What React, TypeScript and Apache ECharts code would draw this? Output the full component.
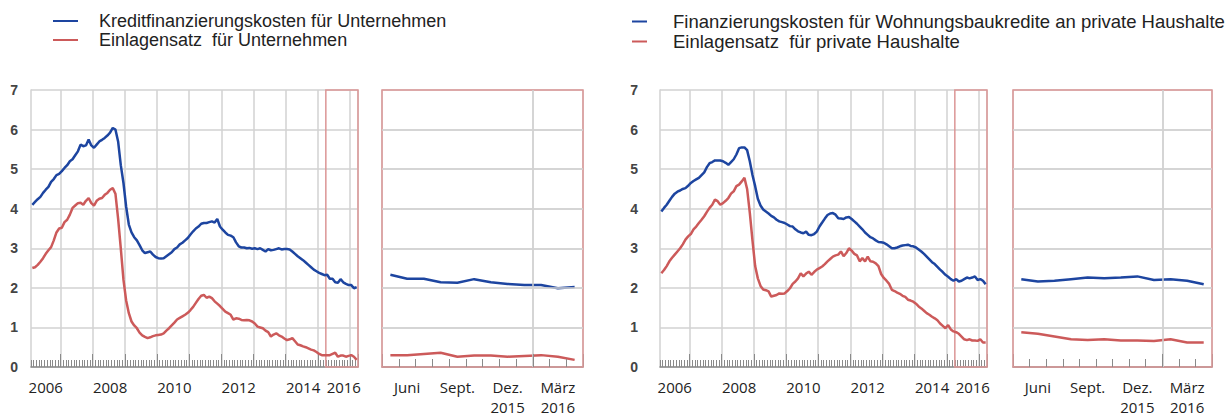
import { useEffect, useRef } from 'react';
import * as echarts from 'echarts';

// ---------- data ----------
const firstMonth = '2006-02';
const lastMonth = '2016-03';
const zoomFirstMonth = '2015-04';

const nameKreditU = 'Kreditfinanzierungskosten für Unternehmen';
const nameEinlageU = 'Einlagensatz  für Unternehmen';
const nameKreditH = 'Finanzierungskosten für Wohnungsbaukredite an private Haushalte';
const nameEinlageH = 'Einlagensatz  für private Haushalte';

// monthly values Feb 2006 – Mar 2016 (%)
const kreditUnternehmen = [
  4.10, 4.17, 4.24, 4.30, 4.40, 4.48, 4.55, 4.68, 4.75, 4.85,
  4.88, 4.95, 5.03, 5.10, 5.20, 5.25, 5.35, 5.45, 5.62, 5.58,
  5.60, 5.75, 5.60, 5.54, 5.62, 5.70, 5.74, 5.79, 5.85, 5.92,
  6.04, 6.00, 5.70, 5.10, 4.65, 4.05, 3.60, 3.40, 3.28, 3.20,
  3.08, 2.95, 2.88, 2.90, 2.92, 2.84, 2.78, 2.75, 2.74, 2.75,
  2.80, 2.85, 2.90, 2.98, 3.02, 3.10, 3.14, 3.20, 3.26, 3.35,
  3.43, 3.50, 3.55, 3.62, 3.64, 3.64, 3.66, 3.68, 3.65, 3.74,
  3.55, 3.47, 3.40, 3.34, 3.32, 3.28, 3.15, 3.05, 3.02, 3.02,
  3.00, 3.01, 2.99, 3.00, 2.98, 3.00, 2.96, 2.92, 2.98, 2.95,
  2.96, 2.98, 3.00, 2.97, 2.98, 2.98, 2.97, 2.92, 2.86, 2.80,
  2.75, 2.70, 2.64, 2.58, 2.52, 2.46, 2.42, 2.38, 2.35, 2.32,
  2.33, 2.23, 2.23, 2.14, 2.13, 2.22, 2.14, 2.10, 2.07, 2.07, 1.99, 2.02,
];
const einlageUnternehmen = [
  2.50, 2.52, 2.58, 2.66, 2.75, 2.86, 2.95, 3.03, 3.20, 3.40,
  3.50, 3.52, 3.66, 3.72, 3.85, 4.02, 4.08, 4.14, 4.15, 4.10,
  4.20, 4.27, 4.14, 4.08, 4.20, 4.25, 4.27, 4.35, 4.40, 4.48,
  4.52, 4.38, 3.75, 3.00, 2.20, 1.68, 1.36, 1.15, 1.05, 0.98,
  0.87, 0.80, 0.76, 0.73, 0.75, 0.78, 0.80, 0.81, 0.82, 0.85,
  0.92, 0.98, 1.05, 1.12, 1.20, 1.24, 1.28, 1.32, 1.37, 1.44,
  1.52, 1.62, 1.72, 1.80, 1.82, 1.75, 1.78, 1.74, 1.66, 1.60,
  1.54, 1.47, 1.40, 1.36, 1.32, 1.20, 1.23, 1.22, 1.19, 1.18,
  1.19, 1.18, 1.15, 1.10, 1.02, 1.00, 0.98, 0.92, 0.88, 0.77,
  0.82, 0.85, 0.80, 0.77, 0.72, 0.68, 0.70, 0.73, 0.65, 0.57,
  0.55, 0.52, 0.50, 0.47, 0.44, 0.42, 0.38, 0.33, 0.30, 0.30,
  0.30, 0.30, 0.33, 0.36, 0.26, 0.29, 0.29, 0.26, 0.28, 0.30, 0.26, 0.18,
];
const kreditHaushalte = [
  3.93, 4.02, 4.10, 4.20, 4.30, 4.38, 4.43, 4.46, 4.50, 4.52,
  4.58, 4.65, 4.70, 4.74, 4.78, 4.85, 4.92, 5.05, 5.15, 5.18,
  5.22, 5.22, 5.22, 5.20, 5.16, 5.11, 5.18, 5.25, 5.37, 5.53,
  5.55, 5.55, 5.48, 5.20, 4.85, 4.57, 4.25, 4.08, 3.98, 3.93,
  3.88, 3.82, 3.78, 3.72, 3.68, 3.66, 3.64, 3.60, 3.56, 3.55,
  3.48, 3.43, 3.40, 3.38, 3.42, 3.34, 3.33, 3.36, 3.42, 3.55,
  3.65, 3.75, 3.84, 3.88, 3.89, 3.85, 3.76, 3.75, 3.74, 3.78,
  3.79, 3.74, 3.68, 3.62, 3.55, 3.48, 3.40, 3.34, 3.28, 3.25,
  3.20, 3.16, 3.15, 3.14, 3.10, 3.05, 3.00, 3.00, 3.02, 3.05,
  3.07, 3.08, 3.09, 3.06, 3.05, 3.02, 2.97, 2.92, 2.86, 2.79,
  2.72, 2.65, 2.60, 2.53, 2.46, 2.40, 2.33, 2.28, 2.22, 2.18,
  2.22, 2.16, 2.18, 2.22, 2.26, 2.24, 2.26, 2.29, 2.20, 2.22, 2.18, 2.09,
];
const einlageHaushalte = [
  2.37, 2.45, 2.55, 2.67, 2.76, 2.84, 2.92, 3.00, 3.10, 3.22,
  3.30, 3.36, 3.48, 3.55, 3.64, 3.72, 3.81, 3.92, 4.02, 4.10,
  4.23, 4.19, 4.10, 4.14, 4.20, 4.27, 4.38, 4.44, 4.57, 4.61,
  4.69, 4.78, 4.50, 3.90, 3.20, 2.55, 2.24, 2.05, 1.96, 1.94,
  1.91, 1.78, 1.80, 1.82, 1.86, 1.85, 1.86, 1.92, 1.99, 2.10,
  2.16, 2.24, 2.37, 2.29, 2.36, 2.41, 2.33, 2.40, 2.46, 2.50,
  2.54, 2.60, 2.67, 2.73, 2.79, 2.82, 2.84, 2.92, 2.80, 2.88,
  3.00, 2.94, 2.86, 2.82, 2.67, 2.75, 2.67, 2.79, 2.67, 2.66,
  2.62, 2.55, 2.35, 2.25, 2.18, 2.10, 1.95, 1.92, 1.88, 1.85,
  1.80, 1.77, 1.70, 1.68, 1.65, 1.60, 1.53, 1.48, 1.42, 1.36,
  1.32, 1.27, 1.23, 1.18, 1.10, 1.04, 0.98, 1.06, 0.95, 0.90,
  0.88, 0.84, 0.77, 0.70, 0.68, 0.70, 0.67, 0.67, 0.66, 0.70, 0.62, 0.62,
];

const yMin = 0;
const yMax = 7;
const yStep = 1;

// tick labels: category month -> shown text
const yearLabels: Record<string, string> = {
  '2006-07': '2006',
  '2008-07': '2008',
  '2010-07': '2010',
  '2012-07': '2012',
  '2014-07': '2014',
  '2016-01': '2016',
};
const zoomLabels: Record<string, string> = {
  '2015-05': 'Juni',
  '2015-08': 'Sept.',
  '2015-11': 'Dez.\n2015',
  '2016-02': 'März\n2016',
};

// ---------- helpers ----------
function monthsBetween(first: string, last: string): string[] {
  const out: string[] = [];
  let [y, m] = first.split('-').map(Number);
  const [ly, lm] = last.split('-').map(Number);
  while (y < ly || (y === ly && m <= lm)) {
    out.push(`${y}-${String(m).padStart(2, '0')}`);
    m++;
    if (m > 12) { m = 1; y++; }
  }
  return out;
}

const FONT = "'Liberation Sans', Arial, sans-serif";
const LABEL_FONT = "'Open Sans', 'Noto Sans', sans-serif";
const BLUE = '#1d45a0';
const RED = '#cc5a5a';
const GRID = '#d2d2d2';
const BOX = '#dc9696';
const AXIS = '#8a8a8a';

function buildOption() {
  const months = monthsBetween(firstMonth, lastMonth);
  const zoomStart = months.indexOf(zoomFirstMonth);
  const zoomMonths = months.slice(zoomStart);

  const gc = { top: 90, height: 277, containLabel: false, outerBoundsMode: 'none' };
  const grid = [
    { ...gc, left: 31, width: 327 },
    { ...gc, left: 382, width: 201 },
    { ...gc, left: 660, width: 327 },
    { ...gc, left: 1013, width: 199 },
  ];

  const panels = [
    { cats: months, zoom: false, a: kreditUnternehmen, b: einlageUnternehmen, na: nameKreditU, nb: nameEinlageU, yMargin: 13 },
    { cats: zoomMonths, zoom: true, a: kreditUnternehmen.slice(zoomStart), b: einlageUnternehmen.slice(zoomStart), na: nameKreditU, nb: nameEinlageU, yMargin: 0 },
    { cats: months, zoom: false, a: kreditHaushalte, b: einlageHaushalte, na: nameKreditH, nb: nameEinlageH, yMargin: 22 },
    { cats: zoomMonths, zoom: true, a: kreditHaushalte.slice(zoomStart), b: einlageHaushalte.slice(zoomStart), na: nameKreditH, nb: nameEinlageH, yMargin: 0 },
  ];

  const yLevels: number[] = [];
  for (let v = yMin + yStep; v < yMax; v += yStep) yLevels.push(v);

  const xAxis: any[] = [];
  const yAxis: any[] = [];
  const series: any[] = [];

  panels.forEach((p, i) => {
    const labelMap = p.zoom ? zoomLabels : yearLabels;
    const isJan = (idx: number, v: string) => (p.zoom && idx === 0) || String(v).endsWith('-01');
    xAxis.push({
      type: 'category',
      gridIndex: i,
      data: p.cats,
      boundaryGap: true,
      position: 'bottom',
      axisLine: { show: true, lineStyle: { color: AXIS, width: 1.5 } },
      axisTick: { show: true, inside: true, length: p.zoom ? 8 : 7, interval: 0, lineStyle: { color: AXIS, width: 1 } },
      axisLabel: {
        show: true,
        interval: (_x: number, v: string) => v in labelMap,
        formatter: (v: string) => (!p.zoom && v === '2016-01' ? '{r|2016}' : labelMap[v]),
        margin: p.zoom ? 10 : 11,
        fontFamily: LABEL_FONT,
        fontSize: 15,
        color: '#222',
        lineHeight: p.zoom ? 20 : 18,
        hideOverlap: false,
        rich: { r: { padding: [0, 15, 0, 0], fontFamily: LABEL_FONT, fontSize: 15, color: '#222' } },
      },
      splitLine: { show: true, interval: isJan, lineStyle: { color: GRID, width: 1.5 } },
    });
    xAxis.push({
      type: 'category',
      gridIndex: i,
      data: p.cats,
      boundaryGap: true,
      position: 'bottom',
      axisLine: { show: false },
      axisTick: { show: true, inside: true, length: 13, interval: isJan, lineStyle: { color: AXIS, width: 1 } },
      axisLabel: { show: false },
      splitLine: { show: false },
    });
    xAxis.push({ type: 'value', gridIndex: i, min: 0, max: p.cats.length, show: false, splitLine: { show: false } });

    yAxis.push({
      type: 'value',
      gridIndex: i,
      min: yMin,
      max: yMax,
      interval: yStep,
      axisLine: { show: !p.zoom, lineStyle: { color: GRID, width: 1.5 } },
      axisTick: { show: false },
      axisLabel: {
        show: !p.zoom,
        margin: p.yMargin,
        fontFamily: FONT,
        fontWeight: 'bold',
        fontSize: 14,
        color: '#444',
      },
      splitLine: { show: true, lineStyle: { color: GRID, width: 1.5 } },
    });

    const lc = { type: 'line', xAxisIndex: i * 3, yAxisIndex: i, showSymbol: false, symbol: 'none', z: 4 };
    series.push({ ...lc, name: p.na, data: p.a, lineStyle: { color: BLUE, width: 2.5 }, itemStyle: { color: BLUE } });
    series.push({ ...lc, name: p.nb, data: p.b, lineStyle: { color: RED, width: 2.5 }, itemStyle: { color: RED } });

    // zoom panels: grid lines and ticks drawn as marker lines on the band-boundary scale
    const markLineData: any[] = [];
    if (p.zoom) {
      yLevels.forEach((v) => markLineData.push({ yAxis: v }));
      p.cats.forEach((m, b) => {
        if (b === 0) return;
        const jan = m.endsWith('-01');
        if (jan) markLineData.push({ xAxis: b });
        markLineData.push([
          { coord: [b, yMin], lineStyle: { color: AXIS, width: 1 } },
          { coord: [b, yMin + (jan ? 0.33 : 0.2)] },
        ]);
      });
    }

    const boxStart = p.zoom ? 0 : zoomStart;
    series.push({
      type: 'line',
      xAxisIndex: i * 3 + 2,
      yAxisIndex: i,
      data: [],
      z: 3,
      markArea: {
        silent: true,
        itemStyle: { color: 'none', borderColor: BOX, borderWidth: 1.5 },
        data: [[{ coord: [boxStart, yMin] }, { coord: [p.cats.length, yMax] }]],
      },
      ...(p.zoom
        ? {
            markLine: {
              silent: true,
              symbol: ['none', 'none'],
              label: { show: false },
              lineStyle: { color: GRID, width: 1.5, type: 'solid' },
              data: markLineData,
            },
          }
        : {}),
    });
  });

  const lg = {
    orient: 'vertical',
    top: 12,
    itemHeight: 2,
    itemGap: 1,
    icon: 'rect',
    padding: 0,
    selectedMode: false,
    formatter: (n: string) => `{t|${n}}`,
  };

  return {
    animation: false,
    backgroundColor: '#ffffff',
    grid,
    xAxis,
    yAxis,
    series,
    legend: [
      {
        ...lg,
        left: 53,
        itemWidth: 25,
        data: [nameKreditU, nameEinlageU],
        textStyle: { rich: { t: { fontFamily: FONT, fontSize: 18, color: '#222', lineHeight: 20, padding: [0, 0, 0, 16] } } },
      },
      {
        ...lg,
        left: 632,
        itemWidth: 15,
        data: [nameKreditH, nameEinlageH],
        textStyle: { rich: { t: { fontFamily: FONT, fontSize: 18.5, color: '#222', lineHeight: 20, padding: [0, 0, 0, 21] } } },
      },
    ],
  };
}

export default function App() {
  const ref = useRef<HTMLDivElement>(null);
  useEffect(() => {
    document.body.style.margin = '0';
    if (!ref.current) return;
    const chart = echarts.init(ref.current, undefined, { renderer: 'svg' });
    chart.setOption(buildOption() as any);
    return () => chart.dispose();
  }, []);
  return <div ref={ref} style={{ width: 1231, height: 416 }} />;
}
